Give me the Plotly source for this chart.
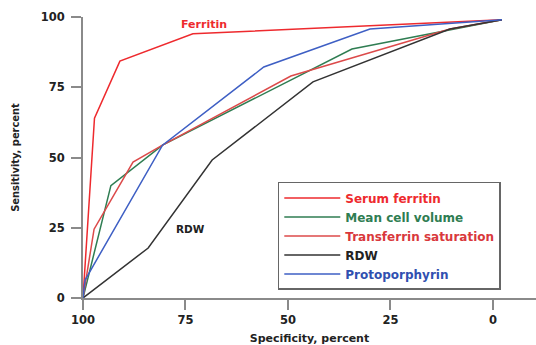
import plotly.graph_objects as go

# ---- data ----
ferritin_spec = [100, 97.2, 91.0, 73.2, -2.2]
ferritin_sens = [0, 64.0, 84.3, 94.0, 99.0]

mcv_spec = [100, 93.2, 80.6, 34.4, -2.2]
mcv_sens = [0, 40.0, 54.4, 88.6, 99.0]

tsat_spec = [100, 97.3, 87.8, 80.6, 49.3, 10.5, -2.2]
tsat_sens = [0, 24.5, 48.4, 54.4, 79.0, 95.7, 99.0]

rdw_spec = [100, 84.1, 68.5, 43.9, 10.5, -2.2]
rdw_sens = [0, 17.8, 49.1, 76.9, 95.7, 99.0]

proto_spec = [100, 99.5, 80.6, 55.9, 30.0, -2.2]
proto_sens = [0, 6.4, 54.4, 82.2, 95.7, 99.0]

x_ticks = [100, 75, 50, 25, 0]
y_ticks = [0, 25, 50, 75, 100]

C_FER = "#ee2a2e"
C_MCV = "#2f7d52"
C_TSAT = "#dc4a4a"
C_RDW = "#333333"
C_PROTO = "#3e5fc4"

FONT = "DejaVu Sans"

series = [
    ("Serum ferritin", ferritin_spec, ferritin_sens, C_FER, "#ee2a2e"),
    ("Mean cell volume", mcv_spec, mcv_sens, C_MCV, "#2f7d52"),
    ("Transferrin saturation", tsat_spec, tsat_sens, C_TSAT, "#d9383c"),
    ("RDW", rdw_spec, rdw_sens, C_RDW, "#222222"),
    ("Protoporphyrin", proto_spec, proto_sens, C_PROTO, "#3050b0"),
]

fig = go.Figure()
for name, xs, ys, col, tcol in series:
    fig.add_trace(go.Scatter(
        x=xs, y=ys, mode="lines",
        line=dict(color=col, width=1.5),
        name=f"<span style='color:{tcol}'>{name}</span>",
    ))

fig.add_annotation(x=70.4, y=97.3, text="Ferritin", showarrow=False,
                   font=dict(family=FONT, size=11, color="#ee2a2e", weight="bold"))
fig.add_annotation(x=73.7, y=24.6, text="RDW", showarrow=False,
                   font=dict(family=FONT, size=10.5, color="#222222", weight="bold"))

axis_common = dict(
    showgrid=False, zeroline=False, showline=True,
    linecolor="#8a8a8a", linewidth=2,
    ticks="outside", ticklen=10, tickwidth=2, tickcolor="#8a8a8a",
    tickfont=dict(family=FONT, size=11.5, color="#222222", weight="bold"),
)

fig.update_xaxes(
    range=[100, -10.5], tickvals=x_ticks, ticktext=[str(v) for v in x_ticks],
    title=dict(text="Specificity, percent", standoff=17,
               font=dict(family=FONT, size=11, color="#222222", weight="bold")),
    **axis_common,
)
fig.update_yaxes(
    range=[0, 100], tickvals=y_ticks, ticktext=[str(v) for v in y_ticks],
    ticklabelstandoff=4,
    title=dict(text="Sensitivity, percent", standoff=19,
               font=dict(family="DejaVu Sans Condensed", size=11, color="#222222", weight="bold")),
    **axis_common,
)

fig.update_layout(
    width=536, height=345,
    margin=dict(l=83, r=0, t=17, b=47, autoexpand=False),
    plot_bgcolor="white", paper_bgcolor="white",
    showlegend=True,
    legend=dict(
        x=0.43, y=0.413, xanchor="left", yanchor="top",
        bordercolor="#666666", borderwidth=1.5, bgcolor="white",
        font=dict(family=FONT, size=12, weight="bold"),
        tracegroupgap=0, itemwidth=56,
    ),
)

# remove the default page margin so the figure fills the 536x345 window exactly
fig.write_html(
    "out.html",
    config={"displayModeBar": False},
    post_script="document.body.style.margin='0';document.body.style.overflow='hidden';",
)
